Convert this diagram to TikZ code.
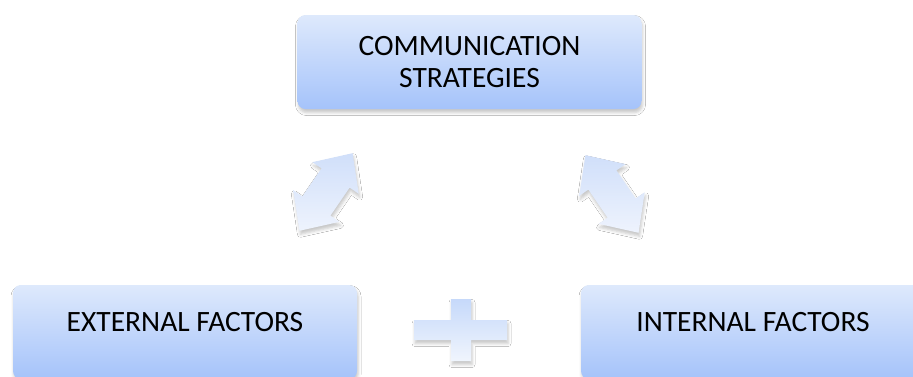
\documentclass[tikz,border=0pt]{standalone}
\usepackage{fontspec}
\setmainfont{Carlito}
\usetikzlibrary{shadows.blur}
\definecolor{boxtop}{RGB}{222,233,252}
\definecolor{boxbot}{RGB}{165,195,250}
\definecolor{arrA}{RGB}{208,223,250}
\definecolor{arrB}{RGB}{238,243,253}
\definecolor{plusA}{RGB}{198,217,250}
\definecolor{plusB}{RGB}{240,245,253}
\tikzset{
  softshadow/.style={blur shadow={shadow xshift=1pt, shadow yshift=-3.5pt, shadow blur radius=3pt, shadow opacity=22}},
  box/.style={rounded corners=8pt, top color=boxtop, bottom color=boxbot,
    minimum width=344pt, minimum height=94pt, inner sep=0pt,
    font=\fontsize{29.5}{32}\selectfont, align=center, softshadow},
  dblarrow/.style={top color=arrA, bottom color=arrB, softshadow},
  plusshape/.style={top color=plusA, bottom color=plusB, softshadow}
}
\begin{document}
\begin{tikzpicture}[x=1pt,y=-1pt]
\clip (0,0) rectangle (913,376);
\fill[white] (0,0) rectangle (913,376);
\node[box] (cs) at (469.5,62) {COMMUNICATION\\STRATEGIES};
\node[box, text height=21pt, text depth=23pt] (ext) at (185,332) {EXTERNAL FACTORS};
\node[box, text height=21pt, text depth=23pt] (int) at (753,332) {INTERNAL FACTORS};
% double arrows
\begin{scope}[shift={(326,192)}, rotate=55.6]
\shade[dblarrow] (47,0) -- (17,28) -- (17,17) -- (-17,17) -- (-17,28) -- (-47,0)
  -- (-17,-28) -- (-17,-17) -- (17,-17) -- (17,-28) -- cycle;
\end{scope}
\begin{scope}[shift={(612,194)}, rotate=-55.6]
\shade[dblarrow] (47,0) -- (17,28) -- (17,17) -- (-17,17) -- (-17,28) -- (-47,0)
  -- (-17,-28) -- (-17,-17) -- (17,-17) -- (17,-28) -- cycle;
\end{scope}
% plus
\shade[plusshape] (414,320) -- (451,320) -- (451,299) -- (471,299) -- (471,320) -- (507,320)
  -- (507,340) -- (471,340) -- (471,361) -- (451,361) -- (451,340) -- (414,340) -- cycle;
\end{tikzpicture}
\end{document}
